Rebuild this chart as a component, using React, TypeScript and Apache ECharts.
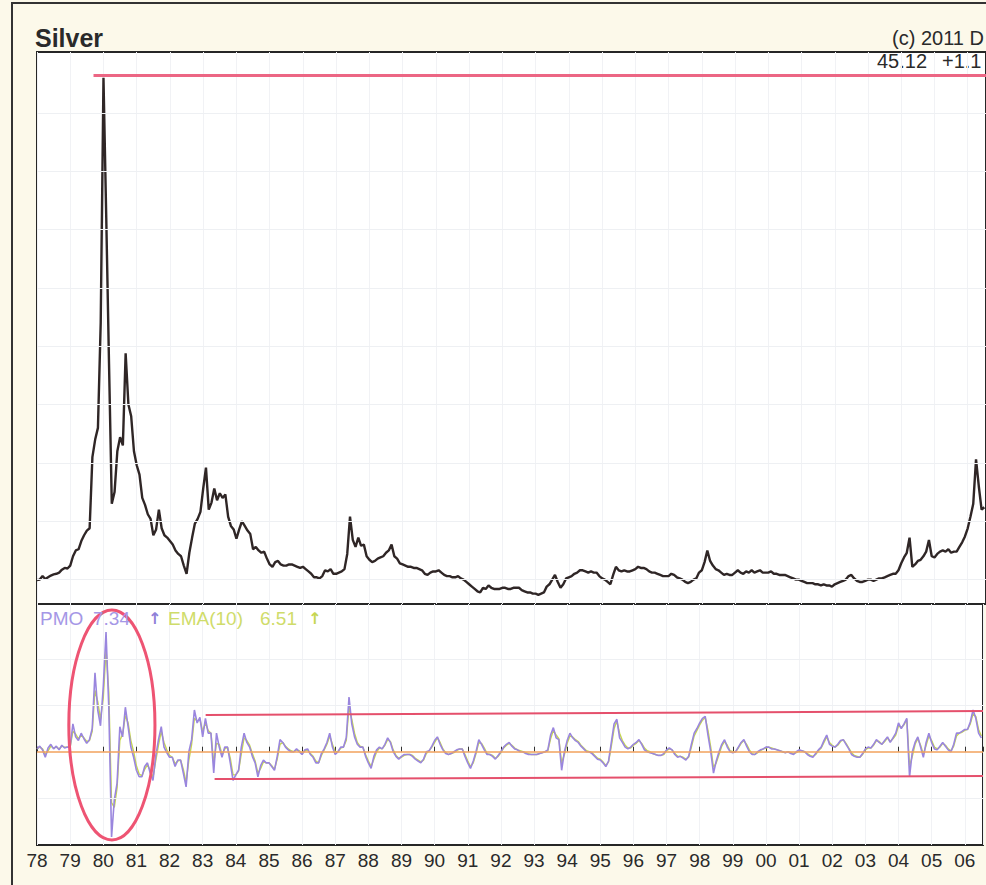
import React, { useEffect, useRef } from "react";
import * as echarts from "echarts";

// ---------- data ----------
const START_YEAR = 1978;
const X_MAX = 2006.55; // right edge of the visible (cropped) window

const yearLabels = [
  "78", "79", "80", "81", "82", "83", "84", "85", "86", "87", "88", "89", "90", "91", "92",
  "93", "94", "95", "96", "97", "98", "99", "00", "01", "02", "03", "04", "05", "06",
];

// Silver price, monthly from Jan 1978
const priceValues = [
  4.95, 5.0, 5.3, 5.05, 5.2, 5.35, 5.45, 5.5, 5.6, 5.85, 6.0, 5.95, // 1978
  6.2, 7.0, 7.5, 7.6, 8.3, 8.8, 9.2, 9.4, 15.5, 17.0, 18.0, 27.0, // 1979
  48.0, 36.0, 23.5, 11.5, 12.5, 16.0, 17.2, 16.5, 24.4, 20.0, 19.0, 16.0, // 1980
  14.8, 14.0, 12.0, 11.4, 10.6, 10.2, 8.8, 9.3, 11.0, 9.4, 8.8, 8.6, // 1981
  8.3, 8.0, 7.5, 7.2, 7.0, 6.2, 5.5, 7.3, 8.6, 9.8, 10.2, 10.8, // 1982
  12.8, 14.6, 11.0, 11.6, 12.8, 11.8, 12.4, 12.0, 12.3, 10.4, 9.6, 9.3, // 1983
  8.5, 9.3, 10.0, 9.6, 9.2, 8.9, 7.6, 7.8, 7.5, 7.3, 7.4, 6.8, // 1984
  6.3, 6.1, 6.5, 6.6, 6.3, 6.2, 6.2, 6.3, 6.3, 6.2, 6.1, 6.0, // 1985
  6.1, 5.9, 5.7, 5.5, 5.2, 5.2, 5.1, 5.3, 5.8, 5.7, 5.9, 5.5, // 1986
  5.5, 5.6, 5.7, 5.9, 7.2, 10.4, 8.4, 7.8, 8.6, 7.9, 8.0, 7.0, // 1987
  6.7, 6.5, 6.6, 6.8, 6.9, 7.0, 7.3, 7.5, 8.0, 7.0, 6.8, 6.4, // 1988
  6.3, 6.2, 6.1, 6.1, 6.0, 6.0, 5.9, 5.8, 5.5, 5.4, 5.6, 5.7, // 1989
  5.7, 5.8, 5.6, 5.4, 5.3, 5.3, 5.2, 5.2, 5.3, 5.1, 5.0, 4.8, // 1990
  4.6, 4.4, 4.2, 4.0, 3.9, 4.3, 4.2, 4.5, 4.3, 4.2, 4.2, 4.2, // 1991
  4.3, 4.3, 4.2, 4.2, 4.3, 4.3, 4.3, 4.1, 4.0, 3.9, 3.9, 3.8, // 1992
  3.8, 3.7, 3.8, 3.9, 4.4, 4.6, 5.0, 5.4, 4.8, 4.3, 4.6, 5.1, // 1993
  5.2, 5.3, 5.5, 5.6, 5.8, 5.8, 5.7, 5.6, 5.7, 5.6, 5.6, 5.3, // 1994
  5.1, 5.0, 4.8, 4.6, 5.4, 6.1, 5.8, 5.7, 5.8, 5.7, 5.7, 5.8, // 1995
  5.9, 6.1, 6.0, 6.0, 5.9, 5.7, 5.6, 5.6, 5.5, 5.4, 5.3, 5.3, // 1996
  5.3, 5.5, 5.4, 5.2, 5.1, 5.0, 4.8, 4.7, 4.8, 5.0, 5.1, 5.6, // 1997
  5.8, 6.5, 7.5, 6.6, 6.2, 5.9, 5.8, 5.6, 5.4, 5.5, 5.4, 5.4, // 1998
  5.6, 5.8, 5.6, 5.5, 5.7, 5.6, 5.8, 5.6, 5.7, 5.8, 5.6, 5.6, // 1999
  5.6, 5.7, 5.5, 5.5, 5.4, 5.4, 5.4, 5.3, 5.2, 5.1, 5.0, 5.0, // 2000
  4.9, 4.8, 4.7, 4.7, 4.7, 4.6, 4.6, 4.5, 4.6, 4.5, 4.5, 4.4, // 2001
  4.6, 4.7, 4.8, 4.9, 5.0, 5.3, 5.4, 5.1, 4.9, 4.8, 4.8, 4.9, // 2002
  5.0, 5.0, 4.9, 5.0, 5.1, 5.1, 5.2, 5.3, 5.4, 5.5, 5.5, 5.8, // 2003
  6.4, 6.9, 7.3, 8.6, 6.1, 6.3, 6.6, 6.7, 7.0, 7.4, 8.4, 7.0, // 2004
  6.9, 7.2, 7.4, 7.5, 7.4, 7.6, 7.3, 7.4, 7.4, 7.8, 8.2, 8.7, // 2005
  9.4, 10.4, 11.5, 15.3, 13.0, 11.0, 11.2, // 2006
];

// PMO, monthly from Jan 1978
const pmoValues = [
  0.3, 0.6, 0.2, -0.6, 0.4, 0.8, 0.3, 0.6, 0.2, 0.7, 0.4, 0.5, // 1978
  0.5, 3.0, 1.6, 1.2, 2.0, 1.4, 0.9, 1.3, 2.5, 8.5, 4.5, 2.8, // 1979
  7.0, 12.9, 4.8, -9.2, -5.2, -3.4, 2.7, 1.6, 4.8, 2.7, 0.5, -0.6, // 1980
  -2.0, -2.7, -2.7, -1.6, -1.2, -2.3, -3.1, -0.5, 1.3, 2.7, 0.5, -0.1, // 1981
  -0.6, -0.6, -1.6, -0.9, -0.9, -2.3, -3.8, 0.0, 1.3, 4.5, 3.1, 3.7, // 1982
  1.6, 3.6, 2.0, 2.0, -2.3, 2.0, 0.5, -0.6, 0.5, 0.5, -1.2, -3.1, // 1983
  -2.5, -2.0, 0.5, 2.0, 1.0, 0.5, -0.5, -1.2, -2.7, -1.5, -0.9, -1.2, // 1984
  -1.2, -1.6, -2.0, -0.5, 1.3, 1.0, 0.5, 0.2, 0.0, 0.0, 0.3, 0.0, // 1985
  -0.3, 0.2, 0.3, -0.3, -0.6, -1.2, -1.2, -0.2, 0.3, 1.0, 2.0, 0.5, // 1986
  -0.3, 0.0, 0.5, 0.5, 1.5, 5.9, 3.0, 1.6, 0.8, 0.5, 0.5, -0.5, // 1987
  -1.2, -1.8, -0.5, 0.2, 0.5, 0.3, 0.8, 1.5, 1.0, 0.0, -0.5, -0.8, // 1988
  -0.5, -0.3, -0.3, -0.3, -0.5, -0.8, -1.0, -1.2, -0.8, 0.0, 0.1, 0.6, // 1989
  1.2, 1.6, 0.8, 0.2, -0.2, -0.3, -0.2, 0.0, 0.2, 0.3, 0.3, -0.5, // 1990
  -1.2, -1.8, -1.0, 0.0, 1.3, 0.8, 0.2, -0.3, -0.3, -0.5, -0.8, -0.4, // 1991
  0.0, 0.5, 0.8, 1.0, 0.6, 0.3, 0.2, 0.0, 0.0, -0.2, -0.3, -0.3, // 1992
  -0.3, -0.3, -0.2, -0.1, 0.0, 0.2, 1.8, 2.6, 1.5, 1.3, -2.0, 0.0, // 1993
  1.2, 2.0, 1.5, 1.2, 1.0, 0.6, 0.3, 0.0, 0.0, -0.2, -0.5, -0.8, // 1994
  -0.9, -1.2, -1.6, -1.0, 1.0, 3.0, 3.5, 1.5, 1.0, 0.5, 0.3, 0.5, // 1995
  0.8, 1.0, 1.3, 0.8, 0.2, 0.0, -0.1, -0.2, -0.3, -0.4, -0.4, -0.2, // 1996
  0.2, 0.4, 0.2, -0.3, -0.6, -0.5, -0.7, -0.9, -0.5, 0.8, 2.0, 2.5, // 1997
  3.1, 3.6, 3.8, 1.8, 0.0, -2.3, -1.0, 0.0, 0.8, 1.3, 0.5, 0.0, // 1998
  -0.1, 0.0, 0.5, 1.0, 1.3, 0.6, 0.0, -0.3, -0.3, 0.0, 0.2, 0.3, // 1999
  0.5, 0.5, 0.3, 0.3, 0.2, 0.1, 0.0, -0.1, 0.0, -0.2, -0.3, 0.0, // 2000
  0.2, 0.1, 0.0, -0.3, -0.5, -0.6, -0.2, 0.2, 0.5, 1.2, 1.8, 0.8, // 2001
  0.6, 0.5, 0.8, 1.2, 1.3, 0.8, 0.3, -0.3, -0.5, -0.6, -0.6, -0.2, // 2002
  0.3, 0.5, 0.4, 0.8, 1.3, 1.0, 0.8, 1.2, 1.6, 1.0, 1.5, 2.0, // 2003
  3.1, 2.5, 3.0, 3.6, -2.7, 0.0, 1.0, 1.6, 0.5, -0.6, 1.0, 2.0, // 2004
  1.0, 0.3, 0.2, 0.6, 1.0, 0.6, 0.2, 0.0, 0.8, 2.0, 2.0, 2.2, // 2005
  2.4, 2.4, 3.2, 4.5, 3.6, 2.0, 1.5, // 2006
];

// EMA(10) of PMO, monthly from Jan 1978
const emaValues = [
  0.3, 0.5, 0.3, -0.3, 0.1, 0.6, 0.4, 0.5, 0.3, 0.6, 0.5, 0.5, // 1978
  0.5, 2.2, 1.9, 1.4, 1.8, 1.5, 1.1, 1.2, 2.2, 6.6, 5.4, 3.5, // 1979
  5.8, 11.0, 6.5, -5.5, -6.0, -3.9, 1.2, 1.9, 3.9, 3.1, 1.2, 0.0, // 1980
  -1.5, -2.4, -2.6, -1.9, -1.4, -2.0, -2.8, -1.0, 0.7, 2.2, 1.0, 0.2, // 1981
  -0.4, -0.6, -1.3, -1.0, -0.9, -1.9, -3.3, -0.9, 0.8, 3.6, 3.3, 3.5, // 1982
  2.2, 3.1, 2.3, 2.0, -1.2, 0.9, 0.8, -0.3, 0.3, 0.5, -0.7, -2.5, // 1983
  -2.5, -2.1, -0.2, 1.5, 1.2, 0.7, -0.2, -1.0, -2.3, -1.8, -1.1, -1.2, // 1984
  -1.2, -1.5, -1.9, -0.8, 0.8, 1.0, 0.6, 0.3, 0.1, 0.0, 0.2, 0.1, // 1985
  -0.2, 0.1, 0.2, -0.2, -0.5, -1.0, -1.2, -0.4, 0.2, 0.8, 1.7, 0.8, // 1986
  0.0, 0.0, 0.4, 0.5, 1.2, 4.8, 3.5, 2.0, 1.0, 0.6, 0.5, -0.3, // 1987
  -1.0, -1.6, -0.8, 0.0, 0.4, 0.3, 0.7, 1.3, 1.1, 0.2, -0.4, -0.7, // 1988
  -0.6, -0.4, -0.3, -0.3, -0.4, -0.7, -0.9, -1.1, -0.9, -0.2, 0.1, 0.5, // 1989
  1.0, 1.5, 1.0, 0.3, -0.1, -0.3, -0.2, -0.1, 0.1, 0.3, 0.3, -0.3, // 1990
  -1.0, -1.6, -1.2, -0.2, 1.0, 0.9, 0.4, -0.2, -0.3, -0.4, -0.7, -0.5, // 1991
  -0.1, 0.4, 0.7, 0.9, 0.7, 0.4, 0.2, 0.1, 0.0, -0.1, -0.2, -0.3, // 1992
  -0.3, -0.3, -0.2, -0.1, 0.0, 0.1, 1.4, 2.3, 1.8, 1.4, -1.2, -0.3, // 1993
  0.9, 1.7, 1.6, 1.3, 1.1, 0.7, 0.4, 0.1, 0.0, -0.1, -0.4, -0.7, // 1994
  -0.8, -1.1, -1.5, -1.1, 0.6, 2.5, 3.3, 2.0, 1.2, 0.7, 0.4, 0.4, // 1995
  0.7, 0.9, 1.2, 0.9, 0.4, 0.1, 0.0, -0.2, -0.3, -0.4, -0.4, -0.3, // 1996
  0.1, 0.3, 0.2, -0.2, -0.5, -0.5, -0.6, -0.8, -0.6, 0.5, 1.7, 2.3, // 1997
  2.9, 3.4, 3.7, 2.3, 0.5, -1.7, -1.2, -0.3, 0.6, 1.1, 0.7, 0.1, // 1998
  0.0, 0.0, 0.4, 0.9, 1.2, 0.8, 0.2, -0.2, -0.3, -0.1, 0.1, 0.3, // 1999
  0.4, 0.5, 0.4, 0.3, 0.2, 0.1, 0.0, -0.1, 0.0, -0.1, -0.2, -0.1, // 2000
  0.1, 0.1, 0.0, -0.2, -0.4, -0.5, -0.3, 0.1, 0.4, 1.0, 1.6, 1.0, // 2001
  0.7, 0.5, 0.7, 1.1, 1.3, 0.9, 0.4, -0.1, -0.4, -0.5, -0.6, -0.3, // 2002
  0.2, 0.4, 0.4, 0.7, 1.2, 1.1, 0.8, 1.1, 1.5, 1.1, 1.4, 1.8, // 2003
  2.8, 2.6, 2.9, 3.5, -1.5, -0.5, 0.8, 1.4, 0.7, -0.3, 0.7, 1.7, // 2004
  1.2, 0.5, 0.3, 0.5, 0.9, 0.7, 0.3, 0.1, 0.6, 1.7, 2.0, 2.1, // 2005
  2.3, 2.4, 3.0, 4.1, 3.8, 2.4, 1.7, // 2006
];

// faint horizontal reference levels
const priceGridLevels = [5, 10, 15, 20, 25, 30, 35, 40, 45];
const pmoGridLevels = [-5, 5, 10];

// annotations (data coordinates)
const priceHighLine = [[1979.7, 48.2], [X_MAX, 48.2]];
const channelTop = [[1983.09, 3.96], [X_MAX, 4.39]];
const channelBottom = [[1983.36, -2.95], [X_MAX, -2.62]];
const ellipseCenter = [1980.26, 2.88];
const ellipseHalfAxes = [1.3, 12.4]; // years, PMO units

const lastPmo = "7.34";
const lastEma = "6.51";

// ---------- layout ----------
const W = 986;
const H = 885;
const GRID_LEFT = 37;
const PX_PER_YEAR = 33.4;
const GRID_W = (X_MAX - START_YEAR) * PX_PER_YEAR;
const FONT = "'Liberation Sans', Arial, sans-serif";

const monthTimes = priceValues.map((_, i) => START_YEAR + i / 12);
const pricePoints = monthTimes.map((t, i) => [t, priceValues[i]]);
const pmoPoints = monthTimes.map((t, i) => [t, pmoValues[i]]);
const emaPoints = monthTimes.map((t, i) => [t, emaValues[i]]);

function xAxisBase(gridIndex: number) {
  return {
    type: "value",
    gridIndex,
    min: START_YEAR,
    max: X_MAX,
    interval: 1,
    axisLine: { show: false },
    axisTick: { show: false },
    axisLabel: { show: false },
    splitLine: { show: true, lineStyle: { color: "#f1f2f5", width: 1 } },
  };
}

export default function App() {
  const ref = useRef<HTMLDivElement>(null);

  useEffect(() => {
    if (!ref.current) return;
    const chart = echarts.init(ref.current, null, { renderer: "svg" });

    const option: any = {
      animation: false,
      backgroundColor: "#fcf9ea",
      grid: [
        {
          left: GRID_LEFT, top: 52, width: GRID_W, height: 552,
          show: true, backgroundColor: "#ffffff", borderColor: "#262626", borderWidth: 2,
        },
        {
          left: GRID_LEFT, top: 604, width: GRID_W, height: 241,
          show: true, backgroundColor: "#ffffff", borderColor: "#262626", borderWidth: 2,
        },
      ],
      xAxis: [
        xAxisBase(0),
        {
          ...xAxisBase(1),
          axisTick: { show: true, inside: true, length: 5, lineStyle: { color: "#333", width: 1 } },
          axisLabel: {
            show: true,
            margin: 6,
            fontSize: 19,
            fontFamily: FONT,
            color: "#2a2a2a",
            formatter: (v: number) => {
              const idx = Math.round(v - START_YEAR);
              return Math.abs(v - Math.round(v)) < 1e-6 && yearLabels[idx] ? yearLabels[idx] : "";
            },
          },
        },
      ],
      yAxis: [
        {
          type: "value", gridIndex: 0, min: 2.91, max: 50.21,
          axisLine: { show: false }, axisTick: { show: false }, axisLabel: { show: false },
          splitLine: { show: false },
        },
        {
          type: "value", gridIndex: 1, min: -10.06, max: 15.93,
          axisLine: { show: false }, axisTick: { show: false }, axisLabel: { show: false },
          splitLine: { show: false },
        },
      ],
      series: [
        {
          // faint price reference lines
          type: "line", xAxisIndex: 0, yAxisIndex: 0, data: [], z: 1, silent: true,
          markLine: {
            silent: true, symbol: ["none", "none"], label: { show: false },
            lineStyle: { color: "#eef0f3", width: 1, type: "solid" },
            data: priceGridLevels.map((v) => ({ yAxis: v })),
          },
        },
        {
          // faint PMO reference lines + zero line
          type: "line", xAxisIndex: 1, yAxisIndex: 1, data: [], z: 1, silent: true,
          markLine: {
            silent: true, symbol: ["none", "none"], label: { show: false },
            lineStyle: { color: "#eef0f3", width: 1, type: "solid" },
            data: [
              ...pmoGridLevels.map((v) => ({ yAxis: v })),
              { yAxis: 0, lineStyle: { color: "#f2a25c", width: 1.5, type: "solid" } },
            ],
          },
        },
        {
          name: "Silver",
          type: "line", xAxisIndex: 0, yAxisIndex: 0, data: pricePoints,
          showSymbol: false, z: 3,
          lineStyle: { color: "#2f2626", width: 2.4 },
          markLine: {
            silent: true, symbol: ["none", "none"], label: { show: false },
            data: [[
              { coord: priceHighLine[0], lineStyle: { color: "#ec6684", width: 3, type: "solid" } },
              { coord: priceHighLine[1] },
            ]],
          },
        },
        {
          name: "EMA(10)",
          type: "line", xAxisIndex: 1, yAxisIndex: 1, data: emaPoints,
          showSymbol: false, z: 3,
          lineStyle: { color: "#c6d84c", width: 1.4 },
        },
        {
          name: "PMO",
          type: "line", xAxisIndex: 1, yAxisIndex: 1, data: pmoPoints,
          showSymbol: false, z: 4,
          lineStyle: { color: "#9a86de", width: 1.6 },
          markLine: {
            silent: true, symbol: ["none", "none"], label: { show: false },
            lineStyle: { color: "#e5506c", width: 2, type: "solid" },
            data: [
              [{ coord: channelTop[0] }, { coord: channelTop[1] }],
              [{ coord: channelBottom[0] }, { coord: channelBottom[1] }],
            ],
          },
        },
        {
          type: "custom", xAxisIndex: 1, yAxisIndex: 1, silent: true, z: 6, clip: false,
          data: [ellipseCenter],
          renderItem: (_params: any, api: any) => {
            const cx = api.value(0);
            const cy = api.value(1);
            const c = api.coord([cx, cy]);
            const e = api.coord([cx + ellipseHalfAxes[0], cy + ellipseHalfAxes[1]]);
            return {
              type: "ellipse",
              shape: { cx: c[0], cy: c[1], rx: Math.abs(e[0] - c[0]), ry: Math.abs(c[1] - e[1]) },
              style: { fill: "none", stroke: "#ee5473", lineWidth: 3 },
            };
          },
        },
      ],
      graphic: [
        {
          type: "rect", silent: true, z: 0,
          shape: { x: 12, y: 3, width: 1200, height: 1000 },
          style: { fill: "none", stroke: "#333333", lineWidth: 2 },
        },
        {
          type: "text", x: 35, y: 38, silent: true,
          style: { text: "Silver", fontSize: 25, fontWeight: "bold", fontFamily: FONT, fill: "#2a2a2a", align: "left", verticalAlign: "middle" },
        },
        {
          type: "text", x: 984, y: 38, silent: true,
          style: { text: "(c) 2011 D", fontSize: 20, fontFamily: FONT, fill: "#2a2a2a", align: "right", verticalAlign: "middle" },
        },
        {
          type: "text", x: 877, y: 61, silent: true,
          style: { text: "45.12", fontSize: 20, fontFamily: FONT, fill: "#2a2a2a", align: "left", verticalAlign: "middle" },
        },
        {
          type: "text", x: 942, y: 61, silent: true,
          style: { text: "+1.1", fontSize: 20, fontFamily: FONT, fill: "#2a2a2a", align: "left", verticalAlign: "middle" },
        },
        {
          type: "text", x: 40, y: 618, silent: true, z: 10,
          style: { text: "PMO", fontSize: 19, fontFamily: FONT, fill: "#a597e6", align: "left", verticalAlign: "middle" },
        },
        {
          type: "text", x: 93, y: 618, silent: true, z: 10,
          style: { text: lastPmo, fontSize: 19, fontFamily: FONT, fill: "#a597e6", align: "left", verticalAlign: "middle" },
        },
        {
          type: "text", x: 148, y: 618, silent: true, z: 10,
          style: { text: "↑", fontSize: 16, fontWeight: "bold", fontFamily: "DejaVu Sans", fill: "#8f80d8", align: "left", verticalAlign: "middle" },
        },
        {
          type: "text", x: 168, y: 618, silent: true, z: 10,
          style: { text: "EMA(10)", fontSize: 19, fontFamily: FONT, fill: "#cfdc6a", align: "left", verticalAlign: "middle" },
        },
        {
          type: "text", x: 260, y: 618, silent: true, z: 10,
          style: { text: lastEma, fontSize: 19, fontFamily: FONT, fill: "#cfdc6a", align: "left", verticalAlign: "middle" },
        },
        {
          type: "text", x: 308, y: 618, silent: true, z: 10,
          style: { text: "↑", fontSize: 16, fontWeight: "bold", fontFamily: "DejaVu Sans", fill: "#c6d652", align: "left", verticalAlign: "middle" },
        },
      ],
    };

    chart.setOption(option);
    return () => chart.dispose();
  }, []);

  return (
    <div
      ref={ref}
      style={{ position: "absolute", left: 0, top: 0, width: W, height: H, overflow: "hidden" }}
    />
  );
}
